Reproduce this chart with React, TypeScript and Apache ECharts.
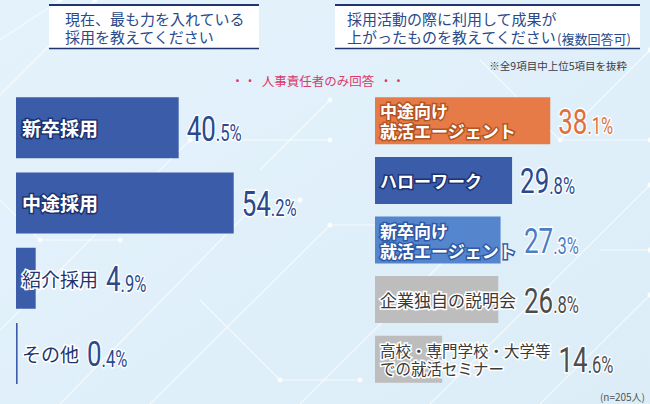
import React, { useEffect, useRef } from "react";
import * as echarts from "echarts";

// ---- data ----
const leftCategories = ["新卒採用", "中途採用", "紹介採用", "その他"];
const leftValues = [40.5, 54.2, 4.9, 0.4];
const rightCategories = [
  "中途向け\n就活エージェント",
  "ハローワーク",
  "新卒向け\n就活エージェント",
  "企業独自の説明会",
  "高校・専門学校・大学等\nでの就活セミナー",
];
const rightValues = [38.1, 29.8, 27.3, 26.8, 14.6];

const leftTitle = "現在、最も力を入れている\n採用を教えてください";
const rightTitle1 = "採用活動の際に利用して成果が";
const rightTitle2 = "上がったものを教えてください";
const rightTitleNote = "(複数回答可)";
const excerptNote = "※全9項目中上位5項目を抜粋";
const respondentNote = "・・  人事責任者のみ回答  ・・";
const sampleNote = "(n=205人)";

// ---- styles ----
const NUM_FONT = 'Roboto, "Liberation Sans", sans-serif';
const JP_FONT = '"Noto Sans CJK JP", "Noto Sans", sans-serif';
const NAVY = "#2b4a8e";

const leftBarColors = ["#3a5ca9", "#3a5ca9", "#3a5ca9", "#3a5ca9"];
const leftLabelStyles = [
  { fill: "#fff", stroke: "#1b3370", weight: "bold", size: 19, value: NAVY },
  { fill: "#fff", stroke: "#1b3370", weight: "bold", size: 19, value: NAVY },
  { fill: "#1f3570", stroke: "#fff", weight: "normal", size: 19, value: NAVY },
  { fill: "#1f3570", stroke: "#fff", weight: "normal", size: 19, value: NAVY },
];
const rightBarColors = ["#e67b48", "#3b5ca8", "#5585cc", "#bdbdbd", "#bdbdbd"];
const rightLabelStyles = [
  { fill: "#fff", stroke: "#b4541f", weight: "bold", size: 17, value: "#e0703a" },
  { fill: "#fff", stroke: "#1e3471", weight: "bold", size: 17, value: NAVY },
  { fill: "#fff", stroke: "#2f5aa6", weight: "bold", size: 17, value: "#4c7cc4" },
  { fill: "#3a3a3a", stroke: "#fff", weight: "normal", size: 17, value: "#4d4d4d" },
  { fill: "#3a3a3a", stroke: "#fff", weight: "normal", size: 15.5, value: "#4d4d4d" },
];

let measureCanvas: HTMLCanvasElement | null = null;
function measure(text: string, font: string): number {
  if (!measureCanvas) measureCanvas = document.createElement("canvas");
  const ctx = measureCanvas.getContext("2d")!;
  ctx.font = font;
  return Math.max(...text.split("\n").map((l) => ctx.measureText(l).width));
}

function valueRich(v: number) {
  const [i, d] = v.toFixed(1).split(".");
  return `{big|${i}}{small|.${d}%}`;
}

function makeRenderer(names: string[], styles: any[], pad: number, lineHeightFactor: number) {
  return (params: any, api: any) => {
    const v = api.value(0);
    const idx = api.value(1);
    const start = api.coord([0, idx]);
    const end = api.coord([v, idx]);
    const cy = end[1];
    const name = names[params.dataIndex];
    const st = styles[params.dataIndex];
    const font = `${st.weight} ${st.size}px ${JP_FONT}`;
    const w = measure(name, font);
    const nx = start[0] + pad;
    const vx = Math.max(end[0], nx + w) + 8;
    return {
      type: "group",
      children: [
        {
          type: "text",
          x: nx,
          y: cy,
          style: {
            text: name,
            fill: st.fill,
            stroke: st.stroke,
            lineWidth: 3,
            fontSize: st.size,
            fontWeight: st.weight,
            fontFamily: JP_FONT,
            lineHeight: Math.round(st.size * lineHeightFactor),
            align: "left",
            verticalAlign: "middle",
          },
        },
        {
          type: "text",
          x: vx,
          y: cy + 1,
          scaleX: 0.72,
          style: {
            text: valueRich(v),
            align: "left",
            verticalAlign: "middle",
            rich: {
              big: {
                fontSize: 36,
                fontWeight: "normal",
                fontFamily: NUM_FONT,
                fill: st.value,
                stroke: "#fff",
                lineWidth: 3,
                lineHeight: 36,
                verticalAlign: "bottom",
              },
              small: {
                fontSize: 23,
                fontWeight: "normal",
                fontFamily: NUM_FONT,
                fill: st.value,
                stroke: "#fff",
                lineWidth: 3,
                lineHeight: 23,
                verticalAlign: "bottom",
                padding: [0, 0, 2, 0],
              },
            },
          },
        },
      ],
    };
  };
}

const decoLines: number[][][] = [
  [[0, 40], [60, 0]],
  [[0, 95], [95, 0]],
  [[0, 330], [190, 140], [330, 140]],
  [[60, 404], [260, 200], [300, 200]],
  [[150, 404], [330, 225], [420, 225]],
  [[260, 170], [330, 100]],
  [[300, 404], [470, 235]],
  [[430, 404], [650, 185]],
  [[540, 404], [650, 295]],
  [[560, 140], [650, 50]],
  [[480, 60], [560, 140], [650, 140]],
  [[600, 250], [650, 250]],
  [[0, 200], [40, 240], [120, 240]],
  [[200, 300], [280, 380], [360, 380]],
];

export default function App() {
  const ref = useRef<HTMLDivElement>(null);
  useEffect(() => {
    if (!ref.current) return;
    const chart = echarts.init(ref.current, undefined, { renderer: "svg" });

    const deco: any[] = decoLines.map((pts) => ({
      type: "polyline",
      silent: true,
      z: -10,
      shape: { points: pts },
      style: { stroke: "rgba(255,255,255,0.65)", lineWidth: 1.2, fill: null },
    }));
    decoLines.forEach((pts) =>
      pts.forEach((p, k) => {
        if (k > 0)
          deco.push({
            type: "circle",
            silent: true,
            z: -10,
            shape: { cx: p[0], cy: p[1], r: 2.5 },
            style: { fill: "rgba(255,255,255,0.8)" },
          });
      })
    );

    const option: any = {
      animation: false,
      backgroundColor: {
        type: "linear",
        x: 0, y: 0, x2: 1, y2: 1,
        colorStops: [
          { offset: 0, color: "#e4f2fb" },
          { offset: 1, color: "#dcedf8" },
        ],
      },
      grid: [
        { left: 16, top: 90, width: 241, height: 301 },
        { left: 375, top: 91, width: 230, height: 298 },
      ],
      xAxis: [
        { type: "value", gridIndex: 0, min: 0, max: 60, show: false },
        { type: "value", gridIndex: 1, min: 0, max: 50, show: false },
      ],
      yAxis: [
        { type: "category", gridIndex: 0, data: leftCategories, inverse: true, show: false },
        { type: "category", gridIndex: 1, data: rightCategories, inverse: true, show: false },
      ],
      series: [
        {
          type: "bar",
          xAxisIndex: 0,
          yAxisIndex: 0,
          barWidth: 61,
          data: leftValues.map((v, i) => ({ value: v, itemStyle: { color: leftBarColors[i] } })),
        },
        {
          type: "bar",
          xAxisIndex: 1,
          yAxisIndex: 1,
          barWidth: 47,
          data: rightValues.map((v, i) => ({ value: v, itemStyle: { color: rightBarColors[i] } })),
        },
        {
          type: "custom",
          xAxisIndex: 0,
          yAxisIndex: 0,
          z: 5,
          encode: { x: 0, y: 1 },
          data: leftValues.map((v, i) => [v, i]),
          renderItem: makeRenderer(leftCategories, leftLabelStyles, 6, 1.15),
        },
        {
          type: "custom",
          xAxisIndex: 1,
          yAxisIndex: 1,
          z: 5,
          encode: { x: 0, y: 1 },
          data: rightValues.map((v, i) => [v, i]),
          renderItem: makeRenderer(rightCategories, rightLabelStyles, 5, 1.18),
        },
      ],
      graphic: {
        elements: [
          ...deco,
          // left title box
          { type: "rect", shape: { x: 49, y: 5, width: 210, height: 44 }, style: { fill: "#ffffff" } },
          { type: "line", shape: { x1: 49, y1: 5, x2: 259, y2: 5 }, style: { stroke: "#1f3570", lineWidth: 2 } },
          { type: "line", shape: { x1: 49, y1: 48.5, x2: 259, y2: 48.5 }, style: { stroke: "#1f3570", lineWidth: 1.5 } },
          {
            type: "text",
            x: 65,
            y: 27,
            style: {
              text: leftTitle,
              fill: "#2a4a8c",
              fontSize: 15,
              fontFamily: JP_FONT,
              lineHeight: 18,
              verticalAlign: "middle",
            },
          },
          // right title box
          { type: "rect", shape: { x: 335, y: 5, width: 305, height: 44 }, style: { fill: "#ffffff" } },
          { type: "line", shape: { x1: 335, y1: 5, x2: 640, y2: 5 }, style: { stroke: "#1f3570", lineWidth: 2 } },
          { type: "line", shape: { x1: 335, y1: 48.5, x2: 640, y2: 48.5 }, style: { stroke: "#1f3570", lineWidth: 1.5 } },
          {
            type: "text",
            x: 347,
            y: 18,
            style: {
              text: rightTitle1,
              fill: "#2a4a8c",
              fontSize: 15,
              fontFamily: JP_FONT,
              verticalAlign: "middle",
            },
          },
          {
            type: "text",
            x: 347,
            y: 36,
            style: {
              text: `${rightTitle2}{s|${rightTitleNote}}`,
              fill: "#2a4a8c",
              fontSize: 15,
              fontFamily: JP_FONT,
              verticalAlign: "middle",
              rich: {
                s: { fontSize: 13, fontFamily: JP_FONT, fill: "#2a4a8c", verticalAlign: "bottom", lineHeight: 18 },
              },
            },
          },
          {
            type: "text",
            x: 627,
            y: 65,
            style: {
              text: excerptNote,
              fill: "#3b3b4a",
              fontSize: 10.5,
              fontFamily: JP_FONT,
              align: "right",
              verticalAlign: "middle",
            },
          },
          {
            type: "text",
            x: 318,
            y: 80,
            style: {
              text: respondentNote,
              fill: "#d93a6c",
              fontSize: 12.5,
              fontFamily: JP_FONT,
              align: "center",
              verticalAlign: "middle",
            },
          },
          {
            type: "text",
            x: 645,
            y: 396,
            style: {
              text: sampleNote,
              fill: "#555",
              fontSize: 10,
              fontFamily: JP_FONT,
              align: "right",
              verticalAlign: "middle",
            },
          },
        ],
      },
    };
    chart.setOption(option);
    return () => chart.dispose();
  }, []);
  return (
    <div
      ref={ref}
      style={{ position: "absolute", left: 0, top: 0, width: 650, height: 404 }}
    />
  );
}
